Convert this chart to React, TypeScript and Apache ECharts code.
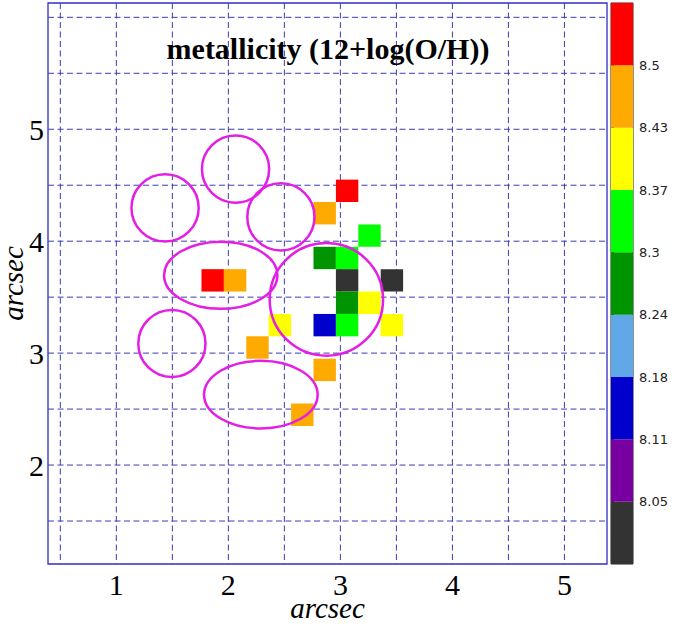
import React, { useEffect, useRef } from "react";
import * as echarts from "echarts";

// Axis extents (arcsec) and tick / grid positions
const X_MIN = 0.39;
const X_MAX = 5.38;
const Y_MIN = 1.116;
const Y_MAX = 6.128;
const xTicks = [1, 2, 3, 4, 5];
const yTicks = [2, 3, 4, 5];
const gridX = [0.5, 1, 1.5, 2, 2.5, 3, 3.5, 4, 4.5, 5];
const gridY = [1.5, 2, 2.5, 3, 3.5, 4, 4.5, 5, 5.5, 6];

// Spaxel centres (arcsec) and metallicity 12+log(O/H)
const PIX = 0.2;
const pixelX = [3.06, 2.86, 3.26, 2.86, 3.06, 3.06, 3.46, 1.86, 2.06, 3.06, 3.26, 2.46, 2.86, 3.06, 3.46, 2.26, 2.86, 2.66];
const pixelY = [4.45, 4.25, 4.05, 3.85, 3.85, 3.65, 3.65, 3.65, 3.65, 3.45, 3.45, 3.25, 3.25, 3.25, 3.25, 3.05, 2.85, 2.45];
const metallicity = [8.52, 8.46, 8.33, 8.27, 8.34, 8.01, 8.02, 8.53, 8.47, 8.28, 8.40, 8.39, 8.14, 8.32, 8.41, 8.45, 8.46, 8.44];

// Apertures (centre and semi-axes, arcsec)
const apertureX = [1.435, 2.064, 2.469, 1.932, 2.875, 1.496, 2.29];
const apertureY = [4.297, 4.644, 4.217, 3.696, 3.48, 3.086, 2.629];
const apertureRx = [0.3, 0.3, 0.3, 0.506, 0.506, 0.3, 0.507];
const apertureRy = [0.3, 0.3, 0.3, 0.3, 0.503, 0.3, 0.302];

// Colour-bar levels and colours
const levels = [7.984, 8.048, 8.112, 8.176, 8.24, 8.304, 8.368, 8.432, 8.496, 8.56];
const levelTicks = [8.048, 8.112, 8.176, 8.24, 8.304, 8.368, 8.432, 8.496];
const levelColors = ["#333333", "#7800A0", "#0000CC", "#60A8E8", "#009400", "#00FF00", "#FFFF00", "#FFAA00", "#FF0000"];

const GRID_COLOR = "#3C3CB0";
const FRAME_COLOR = "#2F2FC8";
const RING_COLOR = "#E41EE4";

export default function App() {
  const ref = useRef<HTMLDivElement>(null);

  useEffect(() => {
    if (!ref.current) return;
    const chart = echarts.init(ref.current, null, { renderer: "svg" });

    const pieces = levelColors.map((c, i) => ({ gte: levels[i], lt: levels[i + 1], color: c }));

    const serif = "Liberation Serif";

    const option: any = {
      animation: false,
      backgroundColor: "#ffffff",
      grid: [
        {
          left: 48,
          top: 3,
          width: 559,
          height: 561,
          outerBoundsMode: "none",
          containLabel: false,
          show: true,
          borderColor: FRAME_COLOR,
          borderWidth: 1.3,
          backgroundColor: "transparent",
        },
        {
          left: 611,
          top: 3,
          width: 22,
          height: 561,
          outerBoundsMode: "none",
          containLabel: false,
          show: true,
          borderColor: "#222222",
          borderWidth: 1,
          backgroundColor: "transparent",
        },
      ],
      xAxis: [
        {
          gridIndex: 0,
          type: "value",
          min: X_MIN,
          max: X_MAX,
          axisLine: { show: false },
          axisTick: { show: false },
          splitLine: { show: false },
          axisLabel: {
            customValues: xTicks,
            fontFamily: serif,
            fontSize: 30,
            color: "#000",
            margin: 5,
          },
          name: "arcsec",
          nameLocation: "middle",
          nameGap: 31,
          nameMoveOverlap: false,
          nameTextStyle: { fontFamily: serif, fontStyle: "italic", fontSize: 29, lineHeight: 26, color: "#000" },
        },
        {
          gridIndex: 1,
          type: "value",
          min: 0,
          max: 1,
          show: false,
        },
      ],
      yAxis: [
        {
          gridIndex: 0,
          type: "value",
          min: Y_MIN,
          max: Y_MAX,
          axisLine: { show: false },
          axisTick: { show: false },
          splitLine: { show: false },
          axisLabel: {
            customValues: yTicks,
            fontFamily: serif,
            fontSize: 30,
            color: "#000",
            margin: 4,
          },
          name: "arcsec",
          nameLocation: "middle",
          nameGap: 25,
          nameRotate: 90,
          nameMoveOverlap: false,
          nameTextStyle: { fontFamily: serif, fontStyle: "italic", fontSize: 29, lineHeight: 21, color: "#000" },
        },
        {
          gridIndex: 1,
          type: "value",
          min: levels[0],
          max: levels[levels.length - 1],
          position: "right",
          axisLine: { show: false },
          splitLine: { show: false },
          axisTick: {
            show: true,
            customValues: levelTicks,
            length: 3,
            lineStyle: { color: "#333" },
          },
          axisLabel: {
            customValues: levelTicks,
            fontFamily: "DejaVu Sans",
            fontSize: 13,
            color: "#222",
            margin: 6,
            formatter: (v: number) => String(parseFloat(v.toFixed(2))),
          },
        },
      ],
      visualMap: {
        type: "piecewise",
        show: false,
        seriesIndex: 2,
        dimension: 2,
        pieces,
      },
      graphic: [
        {
          type: "text",
          x: 328,
          y: 48,
          z: 10,
          style: {
            text: "metallicity (12+log(O/H))",
            font: `bold 30px "${serif}"`,
            fill: "#000",
            textAlign: "center",
            textVerticalAlign: "middle",
          },
        },
      ],
      series: [
        {
          // vertical dashed grid lines
          type: "custom",
          xAxisIndex: 0,
          yAxisIndex: 0,
          z: 1,
          silent: true,
          data: gridX.map((v) => [v, Y_MIN]),
          renderItem: (params: any, api: any) => {
            const cs = params.coordSys;
            const px = api.coord([api.value(0), Y_MIN])[0];
            return {
              type: "line",
              shape: { x1: px, y1: cs.y, x2: px, y2: cs.y + cs.height },
              style: { stroke: GRID_COLOR, lineWidth: 1, lineDash: [6, 3.5] },
            };
          },
        },
        {
          // horizontal dashed grid lines
          type: "custom",
          xAxisIndex: 0,
          yAxisIndex: 0,
          z: 1,
          silent: true,
          data: gridY.map((v) => [X_MIN, v]),
          renderItem: (params: any, api: any) => {
            const cs = params.coordSys;
            const py = api.coord([X_MIN, api.value(1)])[1];
            return {
              type: "line",
              shape: { x1: cs.x, y1: py, x2: cs.x + cs.width, y2: py },
              style: { stroke: GRID_COLOR, lineWidth: 1, lineDash: [6, 3.5] },
            };
          },
        },
        {
          // metallicity spaxels
          type: "custom",
          xAxisIndex: 0,
          yAxisIndex: 0,
          z: 2,
          silent: true,
          encode: { x: 0, y: 1 },
          data: pixelX.map((x, i) => [x, pixelY[i], metallicity[i]]),
          renderItem: (params: any, api: any) => {
            const x = api.value(0);
            const y = api.value(1);
            const tl = api.coord([x - PIX / 2, y + PIX / 2]);
            const size = api.size([PIX, PIX]);
            return {
              type: "rect",
              shape: { x: tl[0], y: tl[1], width: size[0], height: size[1] },
              style: { fill: api.visual("color") },
            };
          },
        },
        {
          // apertures
          type: "custom",
          xAxisIndex: 0,
          yAxisIndex: 0,
          z: 3,
          silent: true,
          encode: { x: 0, y: 1 },
          data: apertureX.map((x, i) => [x, apertureY[i], apertureRx[i], apertureRy[i]]),
          renderItem: (params: any, api: any) => {
            const c = api.coord([api.value(0), api.value(1)]);
            const r = api.size([api.value(2), api.value(3)]);
            return {
              type: "ellipse",
              shape: { cx: c[0], cy: c[1], rx: r[0], ry: r[1] },
              style: { fill: "none", stroke: RING_COLOR, lineWidth: 2.5 },
            };
          },
        },
        {
          // colour bar
          type: "custom",
          xAxisIndex: 1,
          yAxisIndex: 1,
          z: 2,
          silent: true,
          encode: { x: 0, y: [1, 2] },
          data: levelColors.map((_, i) => [0, levels[i], levels[i + 1]]),
          renderItem: (params: any, api: any) => {
            const top = api.coord([0, api.value(2)]);
            const bottom = api.coord([1, api.value(1)]);
            return {
              type: "rect",
              shape: { x: top[0], y: top[1], width: bottom[0] - top[0], height: bottom[1] - top[1] },
              style: { fill: levelColors[params.dataIndex] },
            };
          },
        },
      ],
    };

    chart.setOption(option);
    return () => chart.dispose();
  }, []);

  return (
    <div
      ref={ref}
      style={{ position: "absolute", left: 0, top: 0, width: 688, height: 624 }}
    />
  );
}
